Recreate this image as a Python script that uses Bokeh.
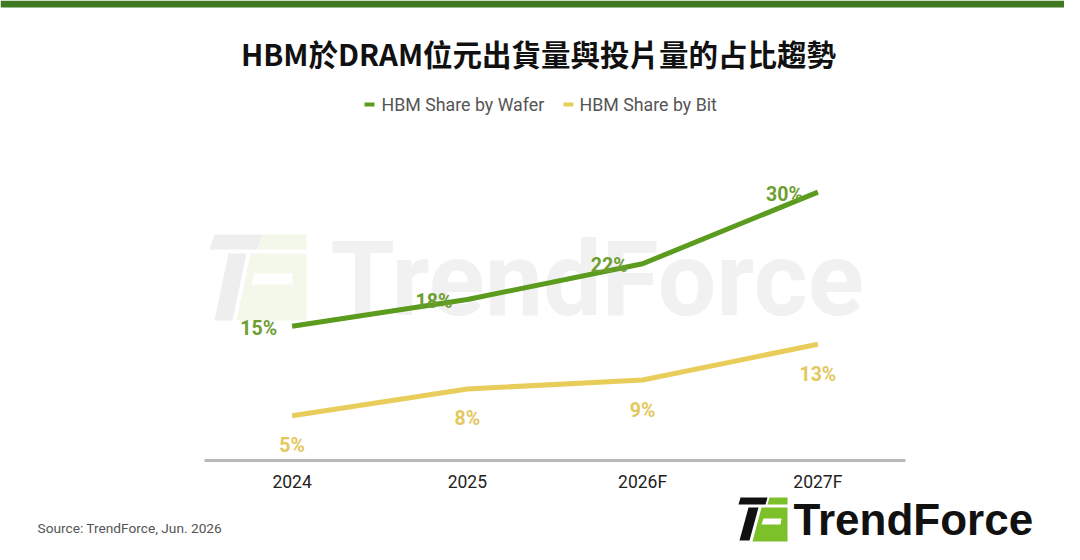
from bokeh.plotting import figure
from bokeh.layouts import column
from bokeh.models import FactorRange, Range1d, Label, BoxAnnotation, PolyAnnotation, ColumnDataSource
from bokeh.core.properties import value
from bokeh.embed import file_html
from bokeh.resources import INLINE

# ---- data ----
years = ["2024", "2025", "2026F", "2027F"]
wafer_share = [15, 18, 22, 30]
bit_share = [5, 8, 9, 13]
wafer_labels = ["15%", "18%", "22%", "30%"]
bit_labels = ["5%", "8%", "9%", "13%"]

title_text = "HBM於DRAM位元出貨量與投片量的占比趨勢"
legend_names = ["HBM Share by Wafer", "HBM Share by Bit"]
source_text = "Source: TrendForce, Jun. 2026"

GREEN_LINE = "#5b9b1d"
GREEN_TXT = "#6c9e30"
YEL_LINE = "#e9cd5b"
YEL_TXT = "#e4c75e"

W = 1064
TOP_H = 140          # header strip (page y 0..140)
MAIN_BOT = 494       # main chart strip (page y 140..494)
TOTAL_H = 544        # footer strip (page y 494..544)
FL, FR, FB = 204, 905, 462   # frame edges in page px


def strip(y0, y1):
    f = figure(width=W, height=y1 - y0, output_backend="svg", toolbar_location=None,
               x_range=Range1d(0, W), y_range=Range1d(y1, y0), frame_align=False,
               min_border=0, min_border_left=0, min_border_right=0,
               min_border_top=0, min_border_bottom=0)
    f.axis.visible = False
    f.grid.visible = False
    f.outline_line_color = None
    f.background_fill_color = "white"
    f.border_fill_color = "white"
    return f


def poly(fig, pts, color, units="data", level="annotation", conv=None):
    xs = [a for a, b in pts]
    ys = [b for a, b in pts]
    if conv:
        xs = [conv[0](a) for a in xs]
        ys = [conv[1](b) for b in ys]
    fig.add_layout(PolyAnnotation(xs=xs, ys=ys, xs_units=units, ys_units=units,
                                  fill_color=color, fill_alpha=1, line_color=None, level=level))


# ---------- header ----------
top = strip(0, TOP_H)
top.add_layout(BoxAnnotation(left=0, right=W + 20, top=0, bottom=7,
                             fill_color="#3f7a22", fill_alpha=1, line_color=None))
top.add_layout(Label(x=538, y=52, text=title_text, text_font="Noto Sans CJK TC",
                     text_font_style="bold", text_font_size="29.5px", text_color="#111111",
                     text_align="center", text_baseline="middle"))
for (x0, x1, tx, col, name) in [(364, 374, 381, GREEN_LINE, legend_names[0]),
                                (563, 573, 579, YEL_LINE, legend_names[1])]:
    top.add_layout(BoxAnnotation(left=x0, right=x1, top=102, bottom=106,
                                 fill_color=col, fill_alpha=1, line_color=None))
    top.add_layout(Label(x=tx, y=104, text=name, text_font="Roboto", text_font_size="17.8px",
                         text_color="#555555", text_baseline="middle"))

# ---------- main chart ----------
p = figure(width=W, height=MAIN_BOT - TOP_H, output_backend="svg", toolbar_location=None,
           x_range=FactorRange(factors=years, range_padding=0),
           y_range=Range1d(0, (FB - TOP_H) / 9.0), frame_align=False,
           min_border_left=FL, min_border_right=W - FR,
           min_border_top=0, min_border_bottom=MAIN_BOT - FB)
p.outline_line_color = None
p.background_fill_color = "white"
p.border_fill_color = "white"
p.grid.visible = False
p.yaxis.visible = False
xa = p.xaxis[0]
xa.axis_line_color = "#b9b9b9"
xa.axis_line_width = 3
xa.major_tick_line_color = None
xa.minor_tick_line_color = None
xa.major_tick_out = 0
xa.major_tick_in = 0
xa.major_label_text_font = "Roboto"
xa.major_label_text_font_size = "17.5px"
xa.major_label_text_color = "#222222"
xa.major_label_standoff = 11

# screen units relative to frame bottom-left (y up)
sx = lambda xabs: xabs - FL
sy = lambda yabs: FB - yabs
conv = (sx, sy)

# watermark
poly(p, [(214, 236), (262, 236), (257, 251), (209, 251)], "#eeeeee", "screen", "underlay", conv)
poly(p, [(228, 255), (246, 255), (232, 322), (214, 322)], "#eeeeee", "screen", "underlay", conv)
poly(p, [(262, 236), (306, 236), (306, 251), (257, 251)], "#f4f8eb", "screen", "underlay", conv)
poly(p, [(250, 255), (306, 255), (306, 322), (236, 322)], "#f4f8eb", "screen", "underlay", conv)
poly(p, [(254, 275), (292, 275), (292, 286), (251, 286)], "#ffffff", "screen", "underlay", conv)
p.add_layout(Label(x=sx(330), y=sy(281), x_units="screen", y_units="screen",
                   text="TrendForce", text_font="Roboto", text_font_style="bold",
                   text_font_size="104px", text_color="#f1f1f1",
                   text_baseline="middle", level="underlay"))

src_w = ColumnDataSource(dict(x=years, y=wafer_share, t=wafer_labels))
src_b = ColumnDataSource(dict(x=years, y=bit_share, t=bit_labels))
p.line("x", "y", source=src_w, line_color=GREEN_LINE, line_width=5)
p.line("x", "y", source=src_b, line_color=YEL_LINE, line_width=5)
p.text("x", "y", text="t", source=src_w, text_align="right", text_baseline="middle",
       x_offset=-15, y_offset=2, text_font=value("Roboto"), text_font_style="bold",
       text_font_size="19.5px", text_color=GREEN_TXT)
p.text("x", "y", text="t", source=src_b, text_align="center", text_baseline="middle",
       x_offset=0, y_offset=30, text_font=value("Roboto"), text_font_style="bold",
       text_font_size="19.5px", text_color=YEL_TXT)

# ---------- footer ----------
bot = strip(MAIN_BOT, TOTAL_H)
bot.add_layout(Label(x=37, y=527, text=source_text, text_font="Roboto", text_font_size="13.7px",
                     text_color="#555555", text_baseline="middle"))
poly(bot, [(740, 497), (767, 497), (765, 504), (738, 504)], "#111111")
poly(bot, [(748, 507), (758, 507), (749, 540), (739, 540)], "#111111")
poly(bot, [(769, 497), (787, 497), (787, 504), (767, 504)], "#7cc02a")
poly(bot, [(761, 507), (787, 507), (787, 541), (752, 541)], "#7cc02a")
poly(bot, [(763, 518), (781, 518), (780, 524), (761, 524)], "#ffffff")
bot.add_layout(Label(x=793, y=519, text="TrendForce", text_font="Liberation Sans",
                     text_font_style="bold", text_font_size="44px", text_color="#111111",
                     text_baseline="middle"))

layout = column(top, p, bot, spacing=0)
open("out.html", "w").write(file_html(layout, INLINE))
